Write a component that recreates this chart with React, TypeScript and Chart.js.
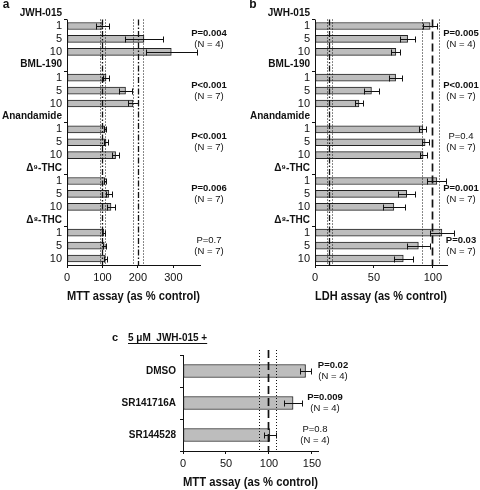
import React, { useEffect, useRef } from 'react';
import { Chart, registerables } from 'chart.js';

Chart.register(...registerables);

const FONT = "'Liberation Sans', Arial, Helvetica, sans-serif";
Chart.defaults.font.family = FONT;
Chart.defaults.color = '#111';

// ---------- shared categories ----------
const groupNames = ['JWH-015', 'BML-190', 'Anandamide', 'Δ⁹-THC', 'Δ⁸-THC'];
const doseLabels = ['1', '5', '10'];

// ---------- panel a: MTT assay (as % control) ----------
const mttJWH015 = [100, 217, 294];
const mttBML190 = [110, 165, 186];
const mttAnandamide = [106, 110, 137];
const mttD9THC = [107, 118, 124];
const mttD8THC = [104, 105, 108];
const mttErrJWH015 = [18, 54, 72];
const mttErrBML190 = [8, 17, 13];
const mttErrAnandamide = [3, 5, 11];
const mttErrD9THC = [4, 8, 10];
const mttErrD8THC = [4, 4, 5];
const mttPValues = ['P=0.004', 'P<0.001', 'P<0.001', 'P=0.006', 'P=0.7'];
const mttN = ['(N = 4)', '(N = 7)', '(N = 7)', '(N = 7)', '(N = 7)'];
const mttSignificant = [true, true, true, true, false];
const mttRefLines = [94, 100, 107, 186, 200, 214];
const mttRefStyles = ['dot', 'dashdot', 'dot', 'dot', 'dashdot', 'dot'];
const mttAxisMax = 375;
const mttTickStep = 100;

// ---------- panel b: LDH assay (as % control) ----------
const ldhJWH015 = [97.7, 78.6, 68.6];
const ldhBML190 = [68.4, 47.9, 37.3];
const ldhAnandamide = [91.5, 93.4, 91.7];
const ldhD9THC = [103.4, 77.8, 66.9];
const ldhD8THC = [107.7, 87.7, 74.9];
const ldhErrJWH015 = [5.7, 6.5, 3.7];
const ldhErrBML190 = [5.7, 6, 3.5];
const ldhErrAnandamide = [3, 3, 3];
const ldhErrD9THC = [8, 7, 9.4];
const ldhErrD8THC = [10, 10, 8];
const ldhPValues = ['P=0.005', 'P<0.001', 'P=0.4', 'P=0.001', 'P=0.03'];
const ldhN = ['(N = 4)', '(N = 7)', '(N = 7)', '(N = 7)', '(N = 7)'];
const ldhSignificant = [true, true, false, true, true];
const ldhRefLines = [10, 12.2, 14.5, 91, 99, 105];
const ldhRefStyles = ['dot', 'dashdot', 'dot', 'dot', 'dash', 'dot'];
const ldhAxisMax = 112;
const ldhTickStep = 50;

// ---------- panel c: 5 µM JWH-015 + antagonists (MTT) ----------
const cTreatments = ['DMSO', 'SR141716A', 'SR144528'];
const cMtt = [142.5, 128, 101];
const cErr = [6.5, 10, 7];
const cPValues = ['P=0.02', 'P=0.009', 'P=0.8'];
const cN = ['(N = 4)', '(N = 4)', '(N = 4)'];
const cSignificant = [true, true, false];
const cRefLines = [88.5, 98.5, 108];
const cRefStyles = ['dot', 'dash', 'dot'];
const cAxisMax = 157;
const cTickStep = 50;

// ---------- helpers ----------
const BAR_FILL = '#bdbdbd';
const INK = '#111';

function flattenGroups(groups: number[][]): (number | null)[] {
  const out: (number | null)[] = [];
  groups.forEach((g) => {
    out.push(null);
    g.forEach((v) => out.push(v));
  });
  return out;
}

function rowLabels(): string[] {
  const out: string[] = [];
  groupNames.forEach((g) => {
    out.push(g);
    doseLabels.forEach((d) => out.push(d));
  });
  return out;
}

const DASHES: Record<string, { dash: number[]; width: number }> = {
  dot: { dash: [1, 2], width: 1 },
  dashdot: { dash: [6, 2, 1.5, 2], width: 1.3 },
  dash: { dash: [8, 4], width: 1.7 },
};

type Note = { text: string; row: number; dy: number; x: number; bold: boolean };
type Extra = (ctx: CanvasRenderingContext2D, chart: any) => void;

function overlayPlugin(opts: {
  values: (number | null)[];
  errors: (number | null)[];
  refLines: number[];
  refStyles: string[];
  refTopExtra: number;
  customAxisFromRow?: number;
  cap: number;
  notes: Note[];
  extra?: Extra;
}) {
  return {
    id: 'overlay',
    afterDatasetsDraw(chart: any) {
      const ctx: CanvasRenderingContext2D = chart.ctx;
      const xs = chart.scales.x;
      const ys = chart.scales.y;
      const area = chart.chartArea;
      ctx.save();
      ctx.strokeStyle = INK;
      ctx.fillStyle = INK;

      let lineTop = area.top - opts.refTopExtra;
      if (opts.customAxisFromRow !== undefined) {
        const r = opts.customAxisFromRow;
        lineTop = (ys.getPixelForValue(r) + ys.getPixelForValue(r - 1)) / 2;
        const ax = Math.round(area.left) + 0.5;
        ctx.setLineDash([]);
        ctx.lineWidth = 1;
        ctx.beginPath();
        ctx.moveTo(ax, lineTop);
        ctx.lineTo(ax, area.bottom);
        ctx.stroke();
      }

      opts.refLines.forEach((v, i) => {
        const st = DASHES[opts.refStyles[i]];
        const x = Math.round(xs.getPixelForValue(v)) + 0.5;
        ctx.setLineDash(st.dash);
        ctx.lineWidth = st.width;
        ctx.beginPath();
        ctx.moveTo(x, lineTop);
        ctx.lineTo(x, area.bottom);
        ctx.stroke();
      });
      ctx.setLineDash([]);

      ctx.lineWidth = 1;
      opts.values.forEach((v, i) => {
        const e = opts.errors[i];
        if (v === null || e === null || e === undefined) return;
        const y = Math.round(ys.getPixelForValue(i)) + 0.5;
        const x1 = Math.round(xs.getPixelForValue(v - e)) + 0.5;
        const x2 = Math.round(xs.getPixelForValue(v + e)) + 0.5;
        ctx.beginPath();
        ctx.moveTo(x1, y);
        ctx.lineTo(x2, y);
        ctx.moveTo(x1, y - opts.cap);
        ctx.lineTo(x1, y + opts.cap);
        ctx.moveTo(x2, y - opts.cap);
        ctx.lineTo(x2, y + opts.cap);
        ctx.stroke();
      });

      ctx.textAlign = 'center';
      ctx.textBaseline = 'middle';
      opts.notes.forEach((n) => {
        ctx.font = `${n.bold ? 'bold ' : ''}9.5px ${FONT}`;
        ctx.fillText(n.text, n.x, ys.getPixelForValue(n.row) + n.dy);
      });

      if (opts.extra) opts.extra(ctx, chart);
      ctx.restore();
    },
  };
}

function groupNotes(p: string[], n: string[], sig: boolean[], x: number): Note[] {
  const out: Note[] = [];
  p.forEach((t, g) => {
    out.push({ text: t, row: g * 4 + 2, dy: -5.5, x, bold: sig[g] });
    out.push({ text: n[g], row: g * 4 + 2, dy: 5.5, x, bold: false });
  });
  return out;
}

function rowPanelConfig(p: {
  values: (number | null)[];
  errors: (number | null)[];
  max: number;
  step: number;
  title: string;
  yWidth: number;
  padRight: number;
  xHeight: number;
  refLines: number[];
  refStyles: string[];
  notes: Note[];
  extra?: Extra;
}) {
  const labels = rowLabels();
  return {
    type: 'bar',
    data: {
      labels,
      datasets: [
        {
          data: p.values,
          backgroundColor: BAR_FILL,
          borderColor: '#222',
          borderWidth: 1,
          borderSkipped: false,
          barThickness: 7,
        },
      ],
    },
    options: {
      indexAxis: 'y',
      animation: false,
      responsive: false,
      maintainAspectRatio: false,
      events: [],
      layout: { padding: { top: 0, right: p.padRight, left: 0, bottom: 0 } },
      plugins: { legend: { display: false }, tooltip: { enabled: false } },
      scales: {
        x: {
          type: 'linear',
          min: 0,
          max: p.max,
          ticks: { stepSize: p.step, includeBounds: false, color: INK, font: { size: 11 }, padding: 3 },
          grid: { drawOnChartArea: false, drawTicks: true, tickLength: 3, color: INK },
          border: { display: true, color: INK, width: 1 },
          title: {
            display: true,
            text: p.title,
            color: INK,
            font: { size: 12, weight: 'bold' },
            padding: { top: 0, bottom: 1 },
          },
          afterFit: (s: any) => {
            s.height = p.xHeight;
          },
        },
        y: {
          type: 'category',
          ticks: {
            autoSkip: false,
            padding: 2,
            color: INK,
            font: (c: any) => (c.index % 4 === 0 ? { size: 10, weight: 'bold' } : { size: 11 }),
          },
          grid: {
            drawOnChartArea: false,
            drawTicks: true,
            tickLength: 3,
            color: (c: any) => (c.index % 4 === 1 ? INK : 'rgba(0,0,0,0)'),
          },
          border: { display: false },
          afterFit: (s: any) => {
            s.width = p.yWidth;
          },
        },
      },
    },
    plugins: [
      overlayPlugin({
        values: p.values,
        errors: p.errors,
        refLines: p.refLines,
        refStyles: p.refStyles,
        refTopExtra: 0,
        customAxisFromRow: 1,
        cap: 3,
        notes: p.notes,
        extra: p.extra,
      }),
    ],
  };
}

function panelLabel(letter: string, x: number, y: number): Extra {
  return (ctx) => {
    ctx.font = `bold 12px ${FONT}`;
    ctx.textAlign = 'center';
    ctx.textBaseline = 'middle';
    ctx.fillText(letter, x, y);
  };
}

function configA() {
  return rowPanelConfig({
    values: flattenGroups([mttJWH015, mttBML190, mttAnandamide, mttD9THC, mttD8THC]),
    errors: flattenGroups([mttErrJWH015, mttErrBML190, mttErrAnandamide, mttErrD9THC, mttErrD8THC]),
    max: mttAxisMax,
    step: mttTickStep,
    title: 'MTT assay (as % control)',
    yWidth: 67,
    padRight: 40,
    xHeight: 40,
    refLines: mttRefLines,
    refStyles: mttRefStyles,
    notes: groupNotes(mttPValues, mttN, mttSignificant, 209),
    extra: panelLabel('a', 6, 7),
  });
}

function configB() {
  return rowPanelConfig({
    values: flattenGroups([ldhJWH015, ldhBML190, ldhAnandamide, ldhD9THC, ldhD8THC]),
    errors: flattenGroups([ldhErrJWH015, ldhErrBML190, ldhErrAnandamide, ldhErrD9THC, ldhErrD8THC]),
    max: ldhAxisMax,
    step: ldhTickStep,
    title: 'LDH assay (as % control)',
    yWidth: 75,
    padRight: 33,
    xHeight: 40,
    refLines: ldhRefLines,
    refStyles: ldhRefStyles,
    notes: groupNotes(ldhPValues, ldhN, ldhSignificant, 221),
    extra: panelLabel('b', 13, 7),
  });
}

const cNoteX = [333, 325, 315];

function configC() {
  const notes: Note[] = [];
  cPValues.forEach((t, i) => {
    notes.push({ text: t, row: i, dy: -6, x: cNoteX[i], bold: cSignificant[i] });
    notes.push({ text: cN[i], row: i, dy: 5, x: cNoteX[i], bold: false });
  });
  const extra: Extra = (ctx) => {
    ctx.textBaseline = 'middle';
    ctx.textAlign = 'center';
    ctx.font = `bold 11px ${FONT}`;
    ctx.fillText('c', 115, 28);
    ctx.textAlign = 'left';
    ctx.font = `bold 10px ${FONT}`;
    const t = '5 μM  JWH-015 +';
    ctx.fillText(t, 128, 28);
    const w = ctx.measureText(t).width;
    ctx.lineWidth = 1;
    ctx.setLineDash([]);
    ctx.beginPath();
    ctx.moveTo(128, 33.5);
    ctx.lineTo(128 + w, 33.5);
    ctx.stroke();
  };
  return {
    type: 'bar',
    data: {
      labels: cTreatments,
      datasets: [
        {
          data: cMtt,
          backgroundColor: BAR_FILL,
          borderColor: '#222',
          borderWidth: 1,
          borderSkipped: false,
          barThickness: 13,
        },
      ],
    },
    options: {
      indexAxis: 'y',
      animation: false,
      responsive: false,
      maintainAspectRatio: false,
      events: [],
      layout: { padding: { top: 45, right: 162, left: 0, bottom: 0 } },
      plugins: { legend: { display: false }, tooltip: { enabled: false } },
      scales: {
        x: {
          type: 'linear',
          min: 0,
          max: cAxisMax,
          ticks: { stepSize: cTickStep, includeBounds: false, color: INK, font: { size: 11 }, padding: 3 },
          grid: { drawOnChartArea: false, drawTicks: true, tickLength: 3, color: INK },
          border: { display: true, color: INK, width: 1 },
          title: {
            display: true,
            text: 'MTT assay (as % control)',
            color: INK,
            font: { size: 12, weight: 'bold' },
            padding: { top: 0, bottom: 0 },
          },
          afterFit: (s: any) => {
            s.height = 39;
          },
        },
        y: {
          type: 'category',
          ticks: { autoSkip: false, padding: 4, color: INK, font: { size: 10, weight: 'bold' } },
          grid: { drawOnChartArea: false, drawTicks: true, tickLength: 3, color: INK },
          border: { display: true, color: INK, width: 1 },
          afterFit: (s: any) => {
            s.width = 183;
          },
        },
      },
    },
    plugins: [
      overlayPlugin({
        values: cMtt,
        errors: cErr,
        refLines: cRefLines,
        refStyles: cRefStyles,
        refTopExtra: 5,
        cap: 3,
        notes,
        extra,
      }),
    ],
  };
}

function ChartCanvas(props: { make: () => any; left: number; top: number; width: number; height: number }) {
  const ref = useRef<HTMLCanvasElement>(null);
  useEffect(() => {
    const chart = new Chart(ref.current as HTMLCanvasElement, props.make());
    return () => chart.destroy();
  }, []);
  return (
    <canvas
      ref={ref}
      width={props.width}
      height={props.height}
      style={{
        position: 'absolute',
        left: props.left,
        top: props.top,
        width: props.width,
        height: props.height,
      }}
    />
  );
}

export default function App() {
  return (
    <div
      style={{
        position: 'absolute',
        left: 0,
        top: 0,
        width: 480,
        height: 490,
        background: '#fff',
        overflow: 'hidden',
      }}
    >
      <ChartCanvas make={configA} left={0} top={-2} width={240} height={307} />
      <ChartCanvas make={configB} left={240} top={-2} width={240} height={307} />
      <ChartCanvas make={configC} left={0} top={310} width={480} height={180} />
    </div>
  );
}
